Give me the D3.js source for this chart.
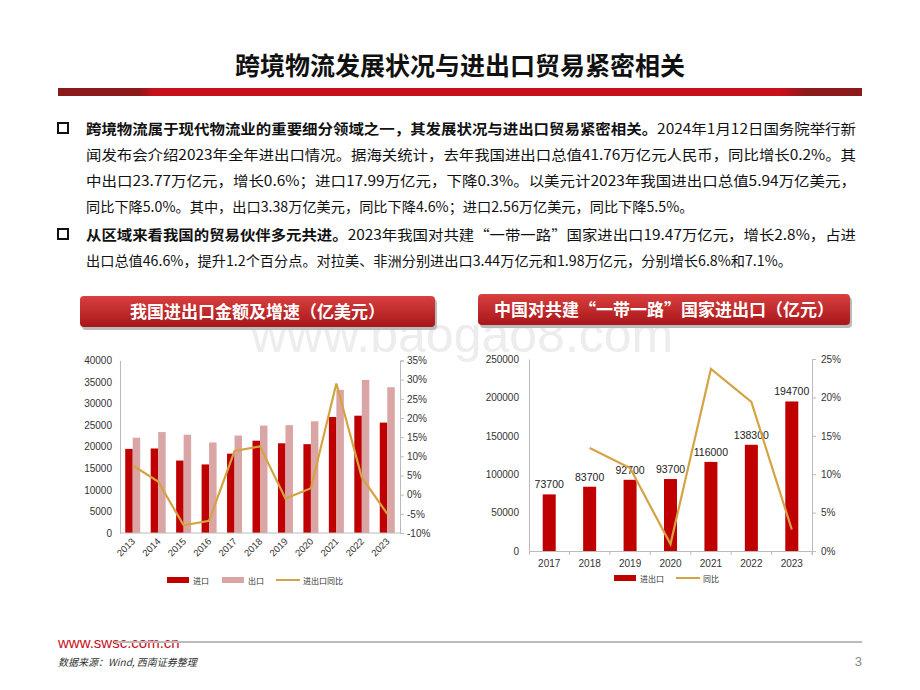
<!DOCTYPE html>
<html><head><meta charset="utf-8">
<script src="https://cdn.jsdelivr.net/npm/d3@7"></script>
<style>body{margin:0;background:#fff}svg{display:block}</style>
</head><body>
<svg id="s" width="920" height="690"></svg>
<script>
const years1 = ["2013","2014","2015","2016","2017","2018","2019","2020","2021","2022","2023"];
const imports1 = [19500,19600,16800,15900,18400,21400,20800,20600,26900,27200,25600];
const exports1 = [22100,23400,22800,21000,22600,24900,25000,25900,33200,35500,33800];
const yoy1 = [7.6,3.4,-8.0,-6.8,11.4,12.6,-1.0,1.7,29.0,4.5,-5.0];
const leftTicks1 = [0,5000,10000,15000,20000,25000,30000,35000,40000];
const rightTicks1 = [-10,-5,0,5,10,15,20,25,30,35];
const years2 = ["2017","2018","2019","2020","2021","2022","2023"];
const trade2 = [73700,83700,92700,93700,116000,138300,194700];
const yoy2 = [null,13.4,10.8,0.9,23.7,19.4,2.8];
const leftTicks2 = [0,50000,100000,150000,200000,250000];
const rightTicks2 = [0,5,10,15,20,25];

const svg = d3.select("#s");
const CJK = "'Noto Sans CJK SC','Noto Sans',sans-serif";
const LAT = "'Liberation Sans',Arial,sans-serif";
const RED = "#c00000", PINK = "#d9a5a5", GOLD = "#d4a343";

// watermark
svg.append("text").attr("x",462).attr("y",352).attr("text-anchor","middle").attr("font-family",LAT)
  .attr("font-size",50).attr("fill","#ededed").text("www.baogao8.com");

// title
svg.append("text").attr("x",460).attr("y",75).attr("text-anchor","middle").attr("font-family",CJK)
  .attr("font-weight","bold").attr("font-size",25).attr("fill","#111").text("跨境物流发展状况与进出口贸易紧密相关");
const g0 = svg.append("defs").append("linearGradient").attr("id","rb");
[["0","#8b1a1a"],["0.1","#8b1a1a"],["0.12","#c8101a"],["0.9","#c8101a"],["0.93","#8b1a1a"],["1","#8b1a1a"]]
  .forEach(d=>g0.append("stop").attr("offset",d[0]).attr("stop-color",d[1]));
svg.append("rect").attr("x",58).attr("y",88).attr("width",804).attr("height",8).attr("fill","url(#rb)");

// paragraphs
const lines = [
  {y:134, b:true, j:true, parts:[["跨境物流属于现代物流业的重要细分领域之一，其发展状况与进出口贸易紧密相关。",true],["2024年1月12日国务院举行新",false]]},
  {y:160, j:true, parts:[["闻发布会介绍2023年全年进出口情况。据海关统计，去年我国进出口总值41.76万亿元人民币，同比增长0.2%。其",false]]},
  {y:186, j:true, parts:[["中出口23.77万亿元，增长0.6%；进口17.99万亿元，下降0.3%。以美元计2023年我国进出口总值5.94万亿美元，",false]]},
  {y:212, parts:[["同比下降5.0%。其中，出口3.38万亿美元，同比下降4.6%；进口2.56万亿美元，同比下降5.5%。",false]]},
  {y:240, b:true, j:true, parts:[["从区域来看我国的贸易伙伴多元共进。",true],["2023年我国对共建“一带一路”国家进出口19.47万亿元，增长2.8%，占进",false]]},
  {y:266, parts:[["出口总值46.6%，提升1.2个百分点。对拉美、非洲分别进出口3.44万亿元和1.98万亿元，分别增长6.8%和7.1%。",false]]}
];
lines.forEach(l=>{
  if(l.b) svg.append("rect").attr("x",58).attr("y",l.y-11).attr("width",10).attr("height",10).attr("fill","none").attr("stroke","#111").attr("stroke-width",2);
  const t = svg.append("text").attr("x",86).attr("y",l.y).attr("font-family",CJK).attr("font-size",14.2).attr("fill","#111");
  if(l.j) t.attr("textLength",770).attr("lengthAdjust","spacingAndGlyphs");
  l.parts.forEach(p=>t.append("tspan").attr("font-weight",p[1]?"bold":"normal").text(p[0]));
});

// banners
const defs = svg.select("defs");
const bg = defs.append("linearGradient").attr("id","bn").attr("x1",0).attr("y1",0).attr("x2",0).attr("y2",1);
bg.append("stop").attr("offset","0").attr("stop-color","#d9403f");
bg.append("stop").attr("offset","1").attr("stop-color","#a8161a");
[[80,296,355,"我国进出口金额及增速（亿美元）"],[478,294,372,"中国对共建“一带一路”国家进出口（亿元）"]].forEach(b=>{
  svg.append("rect").attr("x",b[0]+2).attr("y",b[1]+3).attr("width",b[2]).attr("height",31).attr("rx",4).attr("fill","#bbb");
  svg.append("rect").attr("x",b[0]).attr("y",b[1]).attr("width",b[2]).attr("height",31).attr("rx",4).attr("fill","url(#bn)");
  svg.append("text").attr("x",b[0]+b[2]/2).attr("y",b[1]+22).attr("text-anchor","middle").attr("font-family",CJK)
    .attr("font-weight","bold").attr("font-size",17).attr("fill","#fff").text(b[3]);
});

// chart 1
{
  const x0 = d3.scaleBand().domain(years1).range([120,400]);
  const y = d3.scaleLinear().domain([0,40000]).range([533,360.5]);
  const yr = d3.scaleLinear().domain([-10,35]).range([533,360.5]);
  const bw = 7.5;
  const g = svg.append("g");
  g.selectAll(".im").data(years1).join("rect").attr("x",d=>x0(d)+x0.bandwidth()/2-bw).attr("width",bw)
    .attr("y",(d,i)=>y(imports1[i])).attr("height",(d,i)=>533-y(imports1[i])).attr("fill",RED);
  g.selectAll(".ex").data(years1).join("rect").attr("x",d=>x0(d)+x0.bandwidth()/2).attr("width",bw)
    .attr("y",(d,i)=>y(exports1[i])).attr("height",(d,i)=>533-y(exports1[i])).attr("fill",PINK);
  const la = g.append("g").attr("transform","translate(120,0)").call(d3.axisLeft(y).tickValues(leftTicks1).tickFormat(d3.format("d")).tickSize(0).tickPadding(8));
  la.select(".domain").attr("stroke","#bbb");
  const ra = g.append("g").attr("transform","translate(400,0)").call(d3.axisRight(yr).tickValues(rightTicks1).tickFormat(d=>d+"%").tickSize(4).tickPadding(3));
  ra.selectAll("line,.domain").attr("stroke","#bbb");
  g.append("line").attr("x1",120).attr("x2",400).attr("y1",533).attr("y2",533).attr("stroke","#bbb");
  g.selectAll(".tick text").attr("font-family",LAT).attr("font-size",10).attr("fill","#333");
  g.selectAll(".yl").data(years1).join("text").attr("font-family",LAT).attr("font-size",9.5).attr("fill","#333")
    .attr("text-anchor","end").attr("transform",d=>`translate(${x0(d)+x0.bandwidth()/2+3},${542}) rotate(-45)`).text(d=>d);
  g.append("path").datum(yoy1).attr("fill","none").attr("stroke",GOLD).attr("stroke-width",2.2)
    .attr("d",d3.line().x((d,i)=>x0(years1[i])+x0.bandwidth()/2).y(d=>yr(d)));
  g.append("rect").attr("x",167).attr("y",577).attr("width",22).attr("height",6).attr("fill",RED);
  g.append("text").attr("x",193).attr("y",584).attr("font-family",CJK).attr("font-size",8).attr("fill","#333").text("进口");
  g.append("rect").attr("x",222).attr("y",577).attr("width",22).attr("height",6).attr("fill",PINK);
  g.append("text").attr("x",248).attr("y",584).attr("font-family",CJK).attr("font-size",8).attr("fill","#333").text("出口");
  g.append("line").attr("x1",276).attr("x2",300).attr("y1",580).attr("y2",580).attr("stroke",GOLD).attr("stroke-width",2);
  g.append("text").attr("x",303).attr("y",584).attr("font-family",CJK).attr("font-size",8).attr("fill","#333").text("进出口同比");
}

// chart 2
{
  const x0 = d3.scaleBand().domain(years2).range([529,812]);
  const y = d3.scaleLinear().domain([0,250000]).range([551,359]);
  const yr = d3.scaleLinear().domain([0,25]).range([551,359]);
  const bw = 13;
  const g = svg.append("g");
  g.selectAll(".b").data(years2).join("rect").attr("x",d=>x0(d)+x0.bandwidth()/2-bw/2).attr("width",bw)
    .attr("y",(d,i)=>y(trade2[i])).attr("height",(d,i)=>551-y(trade2[i])).attr("fill",RED);
  g.selectAll(".bl").data(years2).join("text").attr("x",d=>x0(d)+x0.bandwidth()/2).attr("y",(d,i)=>y(trade2[i])-6)
    .attr("text-anchor","middle").attr("font-family",LAT).attr("font-size",10.5).attr("fill","#222").text((d,i)=>trade2[i]);
  const la = g.append("g").attr("transform","translate(529,0)").call(d3.axisLeft(y).tickValues(leftTicks2).tickFormat(d3.format("d")).tickSize(0).tickPadding(10));
  la.select(".domain").attr("stroke","#bbb");
  const ra = g.append("g").attr("transform","translate(812,0)").call(d3.axisRight(yr).tickValues(rightTicks2).tickFormat(d=>d+"%").tickSize(4).tickPadding(5));
  ra.selectAll("line,.domain").attr("stroke","#bbb");
  const xa = g.append("g").attr("transform","translate(0,551)").call(d3.axisBottom(x0).tickSize(4).tickPadding(5));
  xa.selectAll("line,.domain").attr("stroke","#bbb");
  xa.selectAll(".tick line").attr("transform",`translate(${x0.bandwidth()/2},0)`);
  g.selectAll(".tick text").attr("font-family",LAT).attr("font-size",10).attr("fill","#333");
  g.append("path").datum(yoy2).attr("fill","none").attr("stroke",GOLD).attr("stroke-width",2.2)
    .attr("d",d3.line().defined(d=>d!=null).x((d,i)=>x0(years2[i])+x0.bandwidth()/2).y(d=>yr(d)));
  g.append("rect").attr("x",614).attr("y",575).attr("width",22).attr("height",6).attr("fill",RED);
  g.append("text").attr("x",640).attr("y",582).attr("font-family",CJK).attr("font-size",8).attr("fill","#333").text("进出口");
  g.append("line").attr("x1",676).attr("x2",700).attr("y1",578).attr("y2",578).attr("stroke",GOLD).attr("stroke-width",2);
  g.append("text").attr("x",703).attr("y",582).attr("font-family",CJK).attr("font-size",8).attr("fill","#333").text("同比");
}

// footer
svg.append("text").attr("x",58).attr("y",648).attr("font-family",LAT).attr("font-size",15).attr("fill","#c8101a").text("www.swsc.com.cn");
svg.append("line").attr("x1",114).attr("x2",862).attr("y1",642).attr("y2",642).attr("stroke","#bbb").attr("stroke-width",2);
svg.append("text").attr("x",58).attr("y",666).attr("font-family",CJK).attr("font-size",10).attr("font-style","italic").attr("fill","#333").text("数据来源：Wind, 西南证券整理");
svg.append("text").attr("x",862).attr("y",666).attr("text-anchor","end").attr("font-family",LAT).attr("font-size",13).attr("fill","#888").text("3");
</script>
</body></html>
